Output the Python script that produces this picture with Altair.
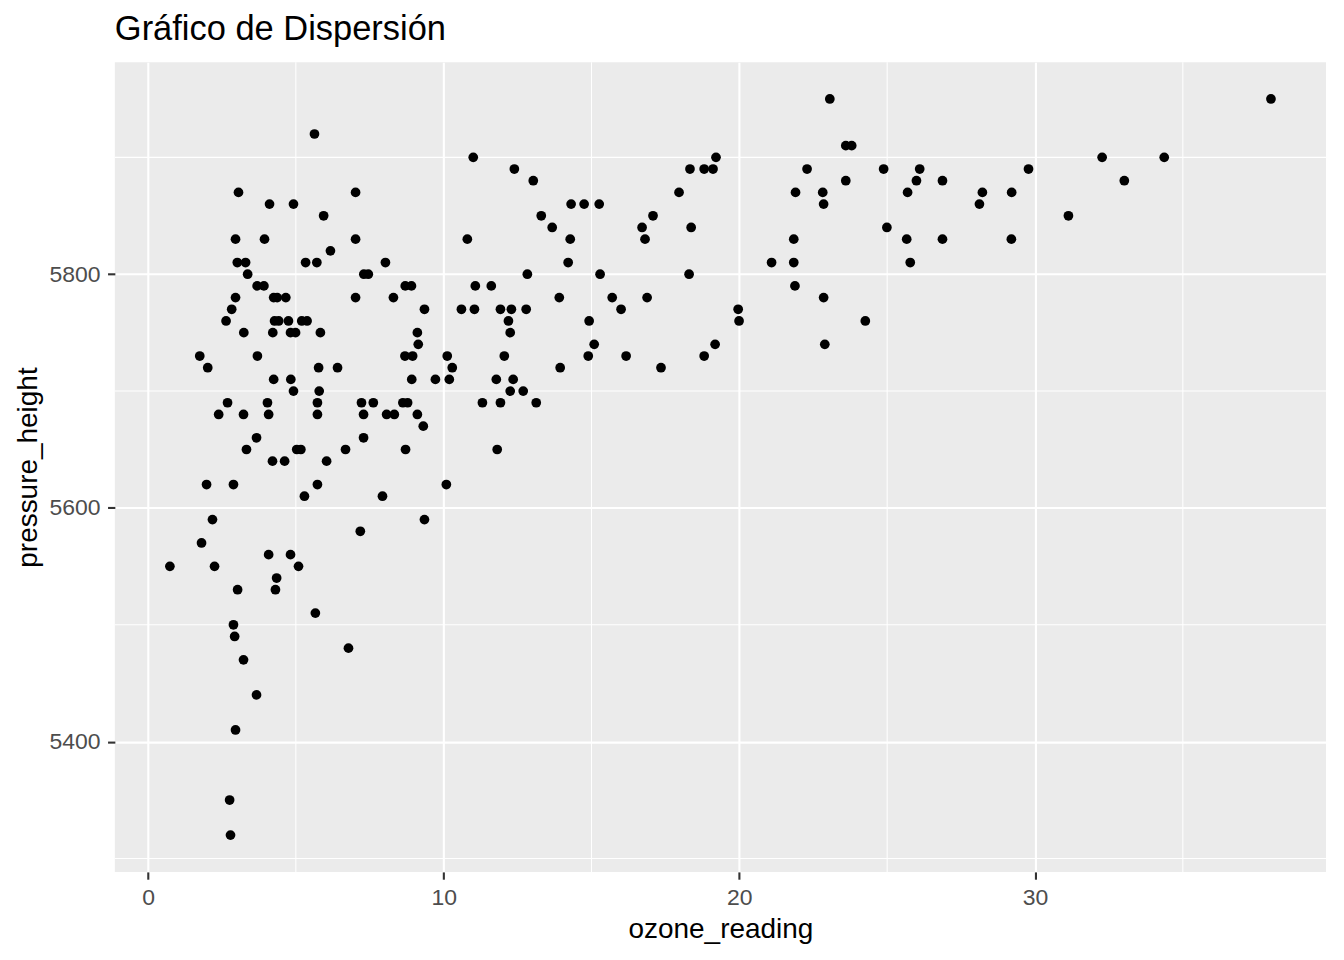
import altair as alt
import pandas as pd

# pressure_height levels (rows) and the ozone_reading values observed at each level
pressure_levels = [5950, 5920, 5910, 5900, 5890, 5880, 5870, 5860, 5850, 5840,
                   5830, 5820, 5810, 5800, 5790, 5780, 5770, 5760, 5750, 5740,
                   5730, 5720, 5710, 5700, 5690, 5680, 5670, 5660, 5650, 5640,
                   5620, 5610, 5590, 5580, 5570, 5560, 5550, 5540, 5530, 5510,
                   5500, 5490, 5480, 5470, 5440, 5410, 5350, 5320]
ozone_by_level = [
    [23.06, 37.98],
    [5.63],
    [23.6, 23.8],
    [11.0, 19.21, 32.27, 34.37],
    [12.39, 18.33, 18.81, 19.11, 22.29, 24.88, 26.10, 29.78],
    [13.03, 23.60, 25.99, 26.87, 33.02],
    [3.06, 7.02, 17.96, 21.90, 22.82, 25.69, 28.22, 29.21],
    [4.11, 4.92, 14.31, 14.75, 15.26, 22.85, 28.12],
    [5.94, 13.30, 17.08, 31.13],
    [13.67, 16.71, 18.37, 24.99],
    [2.96, 3.94, 7.02, 10.80, 14.28, 16.81, 21.84, 25.66, 26.87, 29.20],
    [6.17],
    [3.02, 3.30, 5.33, 5.71, 8.03, 14.21, 21.09, 21.84, 25.78],
    [3.37, 7.3, 7.45, 12.83, 15.29, 18.30],
    [3.69, 3.92, 8.70, 8.91, 11.07, 11.61, 21.88],
    [2.96, 4.25, 4.37, 4.66, 7.02, 8.30, 13.91, 15.70, 16.88, 22.85],
    [2.83, 9.35, 10.60, 11.04, 11.92, 12.29, 12.79, 16.00, 19.96],
    [2.64, 4.28, 4.42, 4.75, 5.2, 5.38, 12.19, 14.92, 19.99, 24.26],
    [3.24, 4.22, 4.82, 4.99, 5.83, 9.11, 12.25],
    [9.14, 15.09, 19.18, 22.89],
    [1.75, 3.70, 8.69, 8.95, 10.12, 12.05, 14.89, 16.17, 18.81],
    [2.02, 5.77, 6.41, 10.29, 13.94, 17.35],
    [4.25, 4.83, 8.92, 9.72, 10.19, 11.78, 12.35],
    [4.92, 5.79, 12.25, 12.69],
    [2.69, 4.04, 5.73, 7.22, 7.62, 8.62, 8.78, 11.31, 11.92, 13.13],
    [2.39, 3.23, 4.08, 5.73, 7.29, 8.07, 8.33, 9.11],
    [9.31],
    [3.67, 7.29],
    [3.33, 5.03, 5.17, 6.68, 8.71, 11.81],
    [4.21, 4.62, 6.04],
    [1.98, 2.89, 5.73, 10.09],
    [5.29, 7.93],
    [2.18, 9.35],
    [7.18],
    [1.81],
    [4.08, 4.82],
    [0.74, 2.25, 5.09],
    [4.35],
    [3.03, 4.31],
    [5.66],
    [2.89],
    [2.93],
    [6.78],
    [3.23],
    [3.67],
    [2.96],
    [2.76],
    [2.79],
]

x_major = [0, 10, 20, 30]
x_minor = [5, 15, 25, 35]
y_major = [5400, 5600, 5800]
y_minor = [5300, 5500, 5700, 5900]

rows = []
for p, xs in zip(pressure_levels, ozone_by_level):
    for o in xs:
        rows.append({"ozone_reading": o, "pressure_height": p})
df = pd.DataFrame(rows)

# ggplot-like 5% expansion
xmin, xmax = df.ozone_reading.min(), df.ozone_reading.max()
ymin, ymax = df.pressure_height.min(), df.pressure_height.max()
xd = [xmin - 0.05 * (xmax - xmin), xmax + 0.05 * (xmax - xmin)]
yd = [ymin - 0.05 * (ymax - ymin), ymax + 0.05 * (ymax - ymin)]

FONT = "Liberation Sans, Arial, sans-serif"
xscale = alt.Scale(domain=xd, nice=False, zero=False)
yscale = alt.Scale(domain=yd, nice=False, zero=False)
xaxis = alt.Axis(values=x_major, title="ozone_reading", format="d")
yaxis = alt.Axis(values=y_major, title="pressure_height", format="d")

vminor = alt.Chart(pd.DataFrame({"xm": x_minor})).mark_rule(
    color="white", strokeWidth=1.05
).encode(x=alt.X("xm:Q", scale=xscale, axis=xaxis))

hminor = alt.Chart(pd.DataFrame({"ym": y_minor})).mark_rule(
    color="white", strokeWidth=1.05
).encode(y=alt.Y("ym:Q", scale=yscale, axis=yaxis))

points = alt.Chart(df).mark_circle(color="black", opacity=1, size=95).encode(
    x=alt.X("ozone_reading:Q", scale=xscale, axis=xaxis),
    y=alt.Y("pressure_height:Q", scale=yscale, axis=yaxis),
)

chart = alt.layer(vminor, hminor, points).properties(
    width=1213,
    height=811,
    title=alt.Title("Gráfico de Dispersión", anchor="start", frame="group",
                    font=FONT, fontSize=34.5, fontWeight="normal",
                    color="black", offset=14),
    autosize=alt.AutoSizeParams(type="none"),
    padding={"left": 107, "top": 53.5, "right": 10, "bottom": 85},
).configure_view(
    fill="#EBEBEB", stroke=None
).configure_axis(
    domain=False,
    grid=True,
    gridColor="white",
    gridWidth=2.1,
    ticks=True,
    tickColor="#333333",
    tickWidth=2.1,
    tickSize=7.3,
    labelPadding=7.5,
    labelFont=FONT,
    labelFontSize=23,
    labelColor="#4D4D4D",
    titleFont=FONT,
    titleFontSize=28,
    titleFontWeight="normal",
    titleColor="black",
    titlePadding=6,
)

chart.save("out.html", embed_options={"renderer": "svg", "actions": False})
